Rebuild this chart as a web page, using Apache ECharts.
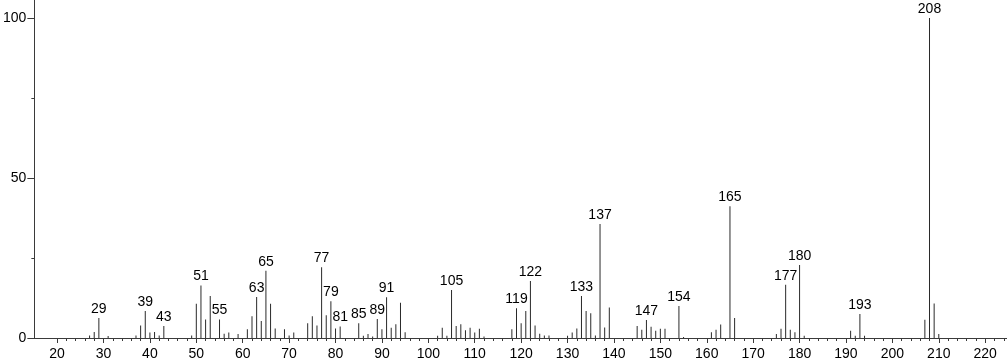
<!DOCTYPE html>
<html>
<head>
<meta charset="utf-8">
<script src="https://cdn.jsdelivr.net/npm/echarts@6/dist/echarts.min.js"></script>
<style>
html,body{margin:0;padding:0;background:#fff;}
#c{width:1007px;height:362px;}
</style>
</head>
<body>
<div id="c"></div>
<script>
const mz = [27,28,29,31,37,38,39,40,41,42,43,49,50,51,52,53,55,56,57,59,61,62,63,64,65,66,67,69,70,71,74,75,76,77,78,79,80,81,85,86,87,88,89,90,91,92,93,94,95,102,103,104,105,106,107,108,109,110,111,112,118,119,120,121,122,123,124,125,126,130,131,132,133,134,135,136,137,138,139,145,146,147,148,149,150,151,154,155,161,162,163,165,166,175,176,177,178,179,180,181,191,192,193,194,207,208,209,210];
const intensity = [0.8,1.9,6.25,0.6,0.8,3.9,8.4,1.7,1.9,0.8,3.75,0.8,10.7,16.4,5.8,13.1,5.8,1.3,1.7,1.25,2.7,6.8,12.8,5.3,21.0,10.7,3.0,2.7,0.8,1.7,4.6,6.8,3.9,22.1,7.1,11.5,3.0,3.6,4.6,0.7,1.25,0.5,5.9,2.7,12.7,3.2,4.3,11.0,1.8,0.7,3.2,0.7,15.0,3.75,4.3,2.4,3.2,1.7,2.9,0.5,2.7,9.3,4.6,8.4,17.8,3.9,1.35,0.8,0.8,0.7,1.7,3.0,13.1,8.4,7.7,0.8,35.6,3.3,9.5,3.75,2.6,5.6,3.5,2.3,2.9,2.9,10.0,0.3,1.8,2.6,4.2,41.2,6.25,1.25,2.9,16.6,2.6,1.8,22.8,0.7,2.3,0.7,7.5,0.7,5.7,100,10.8,1.25];
const labeledPeaks = [29,39,43,51,55,63,65,77,79,81,85,89,91,105,119,122,133,137,147,154,165,177,180,193,208];
const xMajorTicks = [20,30,40,50,60,70,80,90,100,110,120,130,140,150,160,170,180,190,200,210,220];
const xMinorTicks = [];
for (let v = 22; v <= 224; v += 2) { if (v % 10 !== 0) xMinorTicks.push(v); }
const yMajorTicks = [0,50,100];
const yMinorTicks = [25,75];

const data = mz.map((m, i) => {
  const item = { value: [m, intensity[i]] };
  if (labeledPeaks.includes(m)) item.label = { show: true };
  return item;
});

const FONT = 'Liberation Sans, Arial, sans-serif';
const axisColor = '#3a3a3a';
const textColor = '#000';
const chart = echarts.init(document.getElementById('c'));
const xRange = { min: 15.1, max: 224.7 };
const yRange = { min: 0, max: 105.6 };
chart.setOption({
  animation: false,
  grid: { left: 30, right: 0, top: 0, bottom: 24, containLabel: false },
  xAxis: [
    { type: 'value', min: xRange.min, max: xRange.max, position: 'bottom',
      axisLine: { show: true, lineStyle: { color: axisColor, width: 1 } },
      axisTick: { show: true, customValues: xMajorTicks, length: 5, lineStyle: { color: axisColor } },
      axisLabel: { show: true, customValues: xMajorTicks, margin: 9, color: textColor, fontSize: 14, fontFamily: FONT },
      splitLine: { show: false } },
    { type: 'value', min: xRange.min, max: xRange.max, position: 'bottom', gridIndex: 0,
      axisLine: { show: false },
      axisTick: { show: true, customValues: xMinorTicks, length: 3, lineStyle: { color: axisColor } },
      axisLabel: { show: false },
      splitLine: { show: false } }
  ],
  yAxis: [
    { type: 'value', min: yRange.min, max: yRange.max, position: 'left',
      axisLine: { show: true, lineStyle: { color: axisColor, width: 1 } },
      axisTick: { show: true, customValues: yMajorTicks, length: 7, lineStyle: { color: axisColor } },
      axisLabel: { show: true, customValues: yMajorTicks, margin: 8, color: textColor, fontSize: 14, fontFamily: FONT },
      splitLine: { show: false } },
    { type: 'value', min: yRange.min, max: yRange.max, position: 'left', gridIndex: 0,
      axisLine: { show: false },
      axisTick: { show: true, customValues: yMinorTicks, length: 3, lineStyle: { color: axisColor } },
      axisLabel: { show: false },
      splitLine: { show: false } }
  ],
  series: [{
    type: 'bar',
    xAxisIndex: 0, yAxisIndex: 0,
    barWidth: 1,
    itemStyle: { color: '#2a2a2a' },
    label: { show: false, position: 'top', distance: 2, color: textColor, fontSize: 14, fontFamily: FONT,
      formatter: p => String(p.value[0]) },
    data: data
  }]
});
</script>
</body>
</html>
